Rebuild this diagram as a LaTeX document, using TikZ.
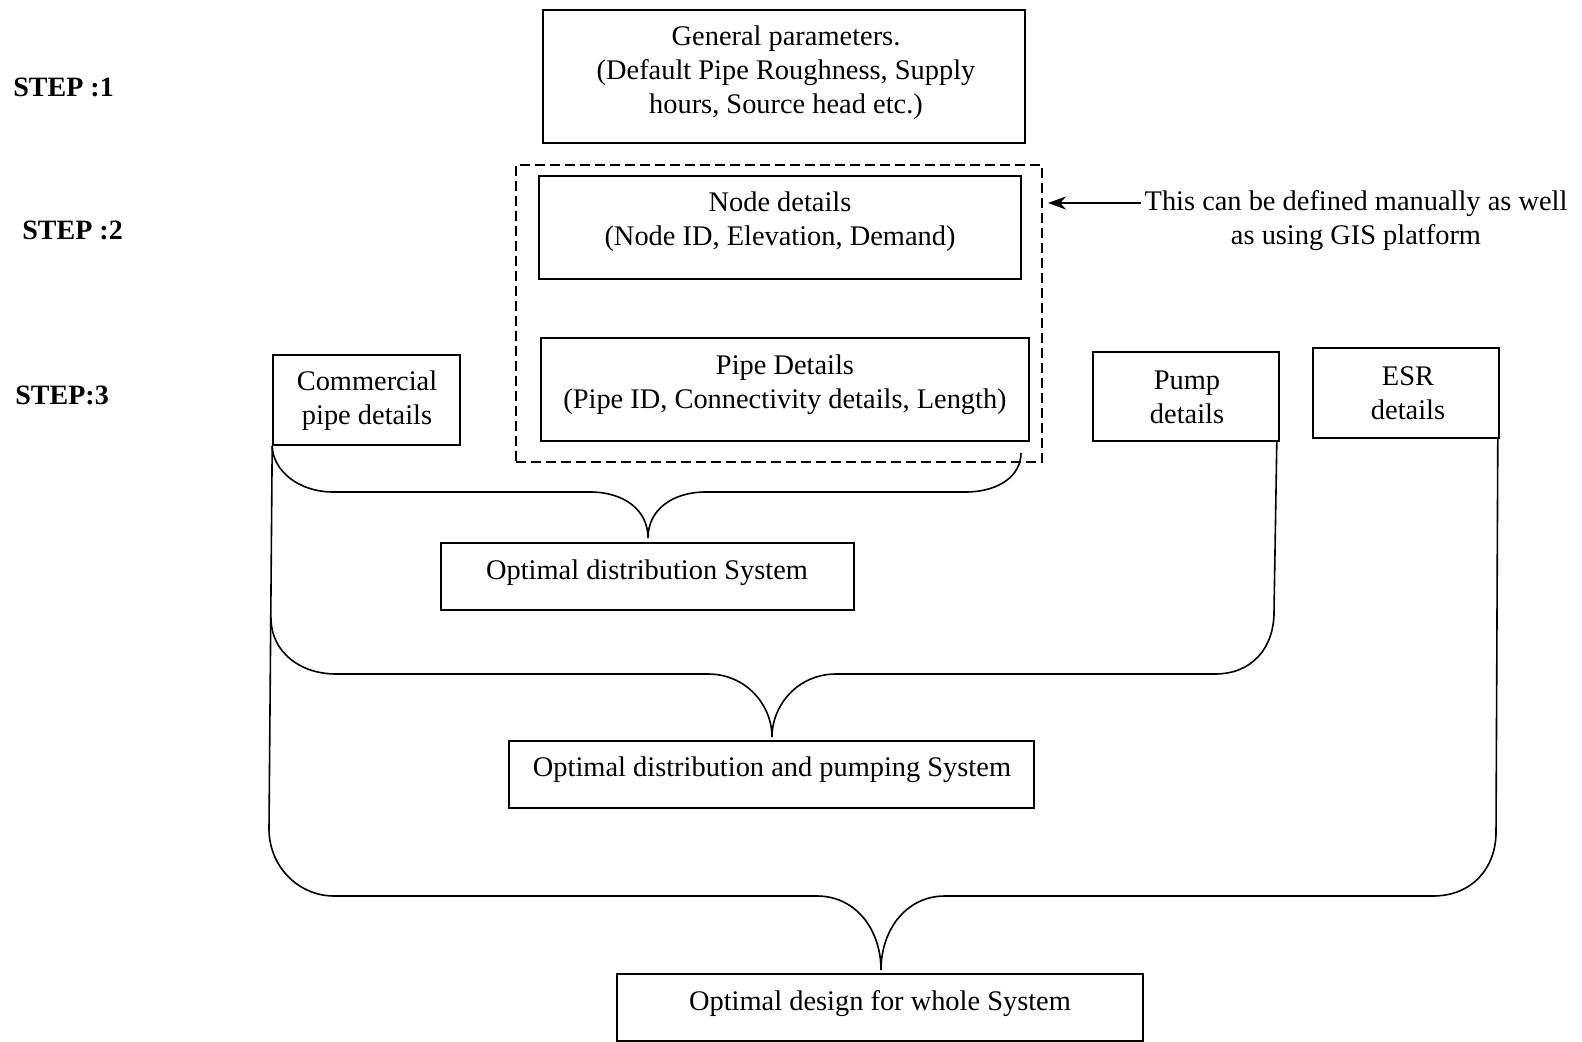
\documentclass[tikz,border=0pt]{standalone}
\usepackage{fontspec}
\setmainfont{Liberation Serif}
\usetikzlibrary{arrows.meta}
\begin{document}
\begin{tikzpicture}[x=0.5pt,y=-0.5pt,
  box/.style={draw, line width=0.8pt, inner sep=0pt},
  dbox/.style={draw, line width=0.7pt, dash pattern=on 5pt off 2.5pt, inner sep=0pt},
  txt/.style={inner sep=0pt, align=center, font=\fontsize{14.2pt}{17pt}\selectfont},
  steplbl/.style={inner sep=0pt, anchor=west, font=\fontsize{14pt}{17pt}\selectfont\bfseries},
  brace/.style={line width=0.8pt},
  arr/.style={line width=1pt, -{Stealth[length=9pt,width=6.5pt]}}]
\useasboundingbox (0,0) rectangle (1582,1042);

% step labels
\node[steplbl] (s1) at (13,87) {STEP :1};
\node[steplbl] (s2) at (22,230) {STEP :2};
\node[steplbl] (s3) at (15,395) {STEP:3};

% boxes
\node[box, minimum width=241pt, minimum height=66.5pt] (gp) at (784,76.5) {};
\node[txt] (gpt) at (786,73) {General parameters.\\(Default Pipe Roughness, Supply\\hours, Source head etc.)};

\node[dbox, minimum width=263pt, minimum height=148.5pt] (grp) at (779,313.5) {};
\node[box, minimum width=241pt, minimum height=51.5pt] (nd) at (780,227.5) {};
\node[txt] (ndt) at (780,222) {Node details\\(Node ID, Elevation, Demand)};
\node[box, minimum width=244pt, minimum height=51.5pt] (pd) at (785,389.5) {};
\node[txt] (pdt) at (785,385) {Pipe Details\\(Pipe ID, Connectivity details, Length)};

\node[box, minimum width=93.5pt, minimum height=45pt] (cp) at (366.5,400) {};
\node[txt] (cpt) at (367,401) {Commercial\\pipe details};
\node[box, minimum width=93pt, minimum height=44.5pt] (pu) at (1186,396.5) {};
\node[txt] (put) at (1187,397) {Pump\\details};
\node[box, minimum width=93pt, minimum height=45pt] (esr) at (1406,393) {};
\node[txt] (esrt) at (1408,393) {ESR\\details};

\node[box, minimum width=206.5pt, minimum height=33.5pt] (od) at (647.5,576.5) {};
\node[txt] (odt) at (647,573) {Optimal distribution System};
\node[box, minimum width=262.5pt, minimum height=33.5pt] (op) at (771.5,774.5) {};
\node[txt] (opt) at (772,770) {Optimal distribution and pumping System};
\node[box, minimum width=263pt, minimum height=33.5pt] (ow) at (880,1007.5) {};
\node[txt] (owt) at (880,1004) {Optimal design for whole System};

% note and arrow
\node[txt, inner sep=1.5pt] (note) at (1356,221) {This can be defined manually as well\\as using GIS platform};
\coordinate (ah) at (1048,203);
\draw[arr] (note.west |- ah) -- (ah);

% brace coordinates
\coordinate (b1r) at (1021,453);
\coordinate (lb) at (269,829);
\coordinate (b2l) at (271,618);
\coordinate (pub) at (1274,612);
\coordinate (esb) at (1496,832);
\coordinate (t1) at (648,538);
\coordinate (t2) at (772,737);
\coordinate (t3) at (881,970);

% long vertical lines
\draw[brace] (cp.south west) -- (lb);
\draw[brace] (pu.south east) ++(-3,0) -- (pub);
\draw[brace] (esr.south east) ++(-2,0) -- (esb);

% brace 1
\draw[brace] (cp.south west) .. controls (273,472) and (300,492) .. (333,492)
  -- (590,492) .. controls (624,492) and (648,510) .. (t1)
  .. controls (648,510) and (672,492) .. (706,492)
  -- (965,492) .. controls (1000,492) and (1021,475) .. (b1r);

% brace 2
\draw[brace] (b2l) .. controls (271,652) and (300,674) .. (336,674)
  -- (708,674) .. controls (746,674) and (772,705) .. (t2)
  .. controls (772,705) and (798,674) .. (836,674)
  -- (1215,674) .. controls (1252,674) and (1274,648) .. (pub);

% brace 3
\draw[brace] (lb) .. controls (269,866) and (298,896) .. (334,896)
  -- (817,896) .. controls (856,896) and (881,930) .. (t3)
  .. controls (881,930) and (906,896) .. (945,896)
  -- (1433,896) .. controls (1472,896) and (1496,868) .. (esb);
\end{tikzpicture}
\end{document}
